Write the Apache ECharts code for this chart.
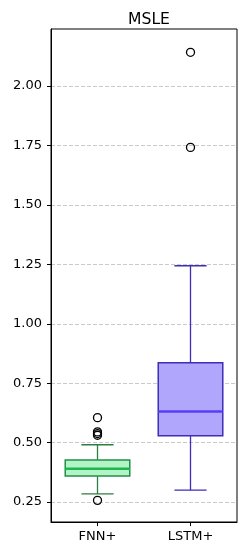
<!DOCTYPE html>
<html><head><meta charset="utf-8">
<script src="https://cdn.jsdelivr.net/npm/echarts@6/dist/echarts.min.js"></script>
<style>html,body{margin:0;padding:0;background:#fff}#c{width:246px;height:556px}</style>
</head><body><div id="c"></div>
<script>
const categories = ['FNN+', 'LSTM+'];
const lowerWhisker = [0.284, 0.300];
const q1 = [0.359, 0.529];
const median = [0.390, 0.631];
const q3 = [0.427, 0.836];
const upperWhisker = [0.491, 1.244];
const outliersFNN = [0.605, 0.545, 0.538, 0.531, 0.257];
const outliersLSTM = [2.142, 1.742];
const yTicks = [0.25, 0.50, 0.75, 1.00, 1.25, 1.50, 1.75, 2.00];

const boxFill = ['#b3f4c6', '#b0a6fb'];
const boxEdge = ['#22904a', '#3d2db8'];
const medColor = ['#1fb54f', '#5a3ef5'];
const whiskColor = ['#2a7e40', '#3d2db8'];

const boxData = categories.map((c, i) => [i, lowerWhisker[i], q1[i], median[i], q3[i], upperWhisker[i]]);
const outData = [];
outliersFNN.forEach(v => outData.push([0, v]));
outliersLSTM.forEach(v => outData.push([1, v]));

const chart = echarts.init(document.getElementById('c'), null, {renderer: 'canvas'});
const font = 'DejaVu Sans';
chart.setOption({
  animation: false,
  backgroundColor: '#fff',
  title: {
    text: 'MSLE', left: 144, top: 7, textAlign: 'center',
    textStyle: {fontFamily: font, fontSize: 15.6, fontWeight: 'normal', color: '#000'}
  },
  grid: {left: 51, right: 9, top: 29, bottom: 34, show: true, borderColor: '#000', borderWidth: 1, backgroundColor: 'transparent'},
  xAxis: {
    type: 'category', data: categories, boundaryGap: true,
    axisLine: {show: true, lineStyle: {color: '#000', width: 1}},
    axisTick: {show: true, alignWithLabel: true, length: 4, lineStyle: {color: '#000'}},
    axisLabel: {fontFamily: font, fontSize: 13, color: '#000', margin: 8},
    splitLine: {show: false}
  },
  yAxis: {
    type: 'value', min: 0.166, max: 2.240,
    axisLine: {show: true, lineStyle: {color: '#000', width: 1}},
    axisTick: {show: true, length: 4, lineStyle: {color: '#000'}, customValues: yTicks},
    axisLabel: {fontFamily: font, fontSize: 13, color: '#000', margin: 9, customValues: yTicks,
      formatter: v => v.toFixed(2)},
    splitLine: {show: true, lineStyle: {color: '#c4c4c4', width: 0.9, type: [4, 2]}}
  },
  series: [
    {
      type: 'custom',
      data: boxData,
      encode: {x: 0, y: [1, 2, 3, 4, 5]},
      z: 3,
      renderItem: function (params, api) {
        const i = api.value(0);
        const x = api.coord([i, api.value(3)])[0];
        const bw = api.size([1, 0])[0];
        const half = bw * 0.347;
        const cap = bw * 0.173;
        const yLo = api.coord([i, api.value(1)])[1];
        const yQ1 = api.coord([i, api.value(2)])[1];
        const yMed = api.coord([i, api.value(3)])[1];
        const yQ3 = api.coord([i, api.value(4)])[1];
        const yHi = api.coord([i, api.value(5)])[1];
        const ws = {stroke: whiskColor[i], lineWidth: 1.3};
        return {
          type: 'group',
          children: [
            {type: 'line', shape: {x1: x, y1: yQ1, x2: x, y2: yLo}, style: ws},
            {type: 'line', shape: {x1: x, y1: yQ3, x2: x, y2: yHi}, style: ws},
            {type: 'line', shape: {x1: x - cap, y1: yLo, x2: x + cap, y2: yLo}, style: ws},
            {type: 'line', shape: {x1: x - cap, y1: yHi, x2: x + cap, y2: yHi}, style: ws},
            {type: 'rect', shape: {x: x - half, y: yQ3, width: 2 * half, height: yQ1 - yQ3},
              style: {fill: boxFill[i], stroke: boxEdge[i], lineWidth: 1.5}},
            {type: 'line', shape: {x1: x - half, y1: yMed, x2: x + half, y2: yMed},
              style: {stroke: medColor[i], lineWidth: 2.5}}
          ]
        };
      }
    },
    {
      type: 'scatter',
      data: outData,
      symbol: 'circle', symbolSize: 8, z: 4,
      itemStyle: {color: 'rgba(0,0,0,0)', borderColor: '#000', borderWidth: 1.3, opacity: 1}
    }
  ]
});
</script></body></html>
